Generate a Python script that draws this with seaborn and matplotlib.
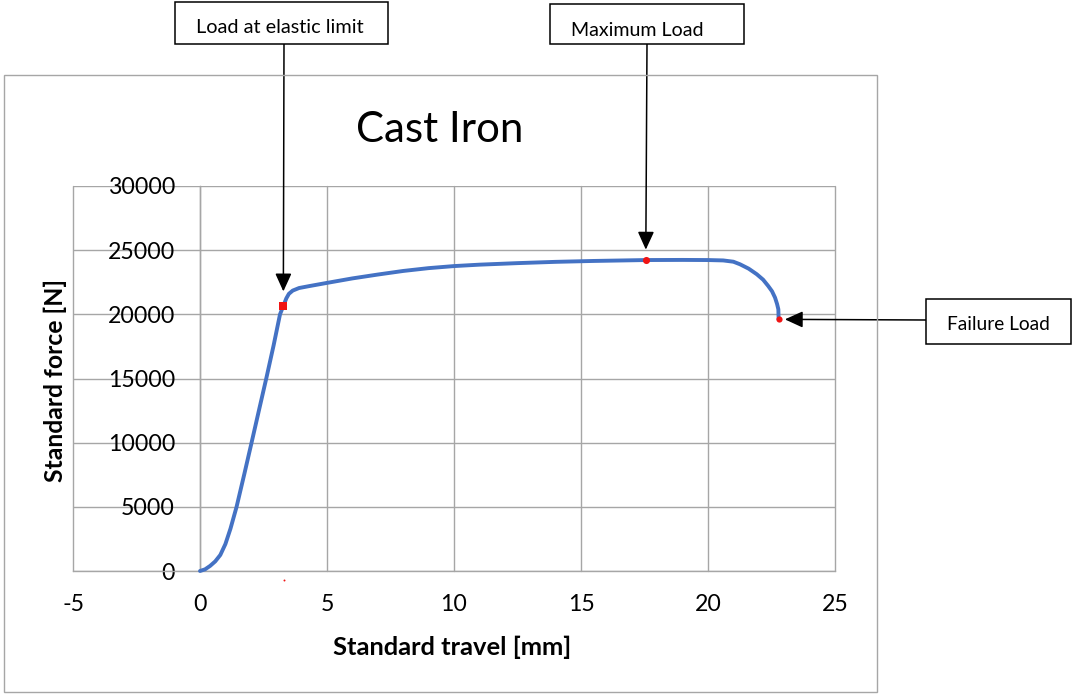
import matplotlib
matplotlib.use("Agg")
import matplotlib.pyplot as plt
import seaborn as sns
import pandas as pd
from matplotlib.patches import Rectangle

# Tensile test record for the cast iron specimen
travel_mm = [0.0, 0.2, 0.4, 0.6, 0.8, 1.0, 1.2, 1.44, 1.75, 2.03, 2.33, 2.62,
             2.9, 3.15, 3.28, 3.4, 3.5, 3.65, 3.9, 4.3, 5.0, 6.0, 7.0, 8.0,
             9.0, 10.0, 11.0, 12.5, 14.0, 15.5, 17.55, 19.0, 20.0, 20.6, 21.0,
             21.26, 21.6, 21.92, 22.17, 22.37, 22.52, 22.64, 22.72, 22.77, 22.78]
force_n = [0, 130, 400, 750, 1250, 2100, 3300, 5000, 7600, 10000, 12600, 15100,
           17600, 20000, 20650, 21250, 21600, 21850, 22050, 22200, 22450, 22800,
           23100, 23380, 23600, 23760, 23870, 23990, 24090, 24160, 24230, 24240,
           24230, 24200, 24100, 23900, 23560, 23125, 22700, 22210, 21800, 21300,
           20800, 20390, 19610]

elastic_limit = (3.28, 20650)
maximum_load = (17.55, 24230)
failure_load = (22.78, 19610)
stray_point = (3.30, -700)

x_ticks = [-5, 0, 5, 10, 15, 20, 25]
y_ticks = [0, 5000, 10000, 15000, 20000, 25000, 30000]

title_text = "Cast Iron"
x_label = "Standard travel [mm]"
y_label = "Standard force [N]"
callouts = ["Load at elastic limit", "Maximum Load", "Failure Load"]

sns.set_theme(style="white")
plt.rcParams["font.family"] = ["Lato", "DejaVu Sans"]
plt.rcParams["text.color"] = "black"
plt.rcParams["axes.labelcolor"] = "black"
plt.rcParams["xtick.labelcolor"] = "black"
plt.rcParams["ytick.labelcolor"] = "black"

W, H = 1073, 698
GRID = "#a6a6a6"
BLUE = "#4472C4"
RED = "#f01414"

fig = plt.figure(figsize=(W / 100, H / 100), dpi=100)
renderer = fig.canvas.get_renderer()


def fx(px):
    return px / W


def fy(py):
    return 1 - py / H


def fit_width(txt, width_px):
    w = txt.get_window_extent(renderer).width
    txt.set_fontsize(txt.get_fontsize() * width_px / w)


# outer chart frame
fig.add_artist(Rectangle((fx(4), fy(692)), (877 - 4) / W, (692 - 75) / H,
                         transform=fig.transFigure, fill=False,
                         edgecolor=GRID, lw=1.0))

ax = fig.add_axes([fx(73), fy(571), (835 - 73) / W, (571 - 186) / H])
ax.set_facecolor("none")

df = pd.DataFrame({"travel": travel_mm, "force": force_n})
sns.lineplot(data=df, x="travel", y="force", sort=False, ax=ax,
             color=BLUE, lw=2.8, zorder=3)
for ln in ax.get_lines():
    ln.set_clip_on(False)
    ln.set_solid_capstyle("round")

ax.scatter([elastic_limit[0]], [elastic_limit[1]], marker="s", s=34,
           color=RED, zorder=4, linewidths=0)
ax.scatter([maximum_load[0]], [maximum_load[1]], marker="o", s=26,
           color=RED, zorder=4, linewidths=0)
ax.scatter([failure_load[0]], [failure_load[1]], marker="o", s=20,
           color=RED, zorder=4, linewidths=0)
ax.scatter([stray_point[0]], [stray_point[1]], marker="o", s=2,
           color=RED, zorder=4, linewidths=0, clip_on=False)

ax.set_xlim(-5, 25)
ax.set_ylim(0, 30000)
ax.set_xticks(x_ticks)
ax.set_yticks(y_ticks)
ax.grid(True, color=GRID, lw=1.0)
for gl in ax.get_xgridlines() + ax.get_ygridlines():
    gl.set_clip_on(False)

for side in ["top", "right"]:
    ax.spines[side].set_visible(False)
ax.spines["left"].set_position(("data", 0))
ax.spines["left"].set_color(GRID)
ax.spines["bottom"].set_color(GRID)
ax.spines["left"].set_linewidth(1.0)
ax.spines["bottom"].set_linewidth(1.0)

# tick label size from the width of "30000"
probe = fig.text(0, 0, "30000", fontsize=16)
fit_width(probe, 67)
tick_fs = probe.get_fontsize()
probe.remove()

ax.tick_params(axis="x", direction="out", length=6, width=1.0, color=GRID,
               pad=10.5, labelsize=tick_fs, labelcolor="black")
ax.tick_params(axis="y", direction="out", length=6, width=1.0, color=GRID,
               pad=12, labelsize=tick_fs, labelcolor="black")
ax.set_xticklabels([str(v) for v in x_ticks])
ax.set_yticklabels([str(v) for v in y_ticks])

# axis titles
xl = ax.set_xlabel(x_label, fontweight="bold", fontsize=16, color="black")
fit_width(xl, 239)
ax.xaxis.set_label_coords((452 - 73) / 762, (571 - 647) / 385)
xl.set_va("center")

yl = ax.set_ylabel(y_label, fontweight="bold", fontsize=16, color="black")
yl.set_rotation(0)
fit_width(yl, 204)
yl.set_rotation(90)
ax.yaxis.set_label_coords((55 - 73) / 762, (571 - 380) / 385)
yl.set_va("center")

# chart title
t = fig.text(fx(440), fy(142), title_text, ha="center", va="baseline",
             fontsize=30, color="black")
fit_width(t, 167)

# callout boxes: (left, top, right, bottom) and text left / baseline
boxes = [
    ((175, 2, 388, 44), (196, 33), 167),
    ((550, 4, 744, 44), (571, 36), 132),
    ((926, 299, 1071, 344), (947, 330), 103),
]
for label, ((l, tp, r, b), (tx, ty), tw) in zip(callouts, boxes):
    fig.add_artist(Rectangle((fx(l), fy(b)), (r - l) / W, (b - tp) / H,
                             transform=fig.transFigure, facecolor="white",
                             edgecolor="black", lw=1.1, zorder=5))
    txt = fig.text(fx(tx), fy(ty), label, ha="left", va="baseline",
                   fontsize=12, zorder=6, color="black")
    fit_width(txt, tw)

arrow_style = "-|>,head_length=1.1,head_width=0.5"
arrow_specs = [
    (elastic_limit, (284, H - 44), 10.5),
    (maximum_load, (647, H - 44), 7.5),
    (failure_load, (926, H - 320), 4.5),
]
for target, start, shrink in arrow_specs:
    ax.annotate("", xy=target, xycoords="data", xytext=start,
                textcoords="figure pixels", annotation_clip=False,
                arrowprops=dict(arrowstyle=arrow_style, color="black",
                                lw=1.1, shrinkA=0, shrinkB=shrink,
                                mutation_scale=10), zorder=6)

fig.savefig("out.png", dpi=100)
